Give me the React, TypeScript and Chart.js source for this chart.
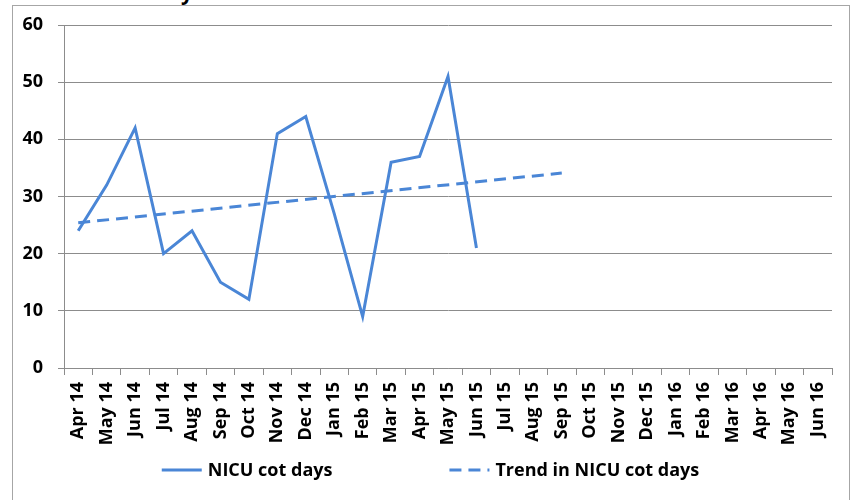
import React, { useEffect, useRef } from "react";
import { Chart, registerables } from "chart.js";

Chart.register(...registerables);

const months: string[] = [
  "Apr 14", "May 14", "Jun 14", "Jul 14", "Aug 14", "Sep 14", "Oct 14", "Nov 14", "Dec 14",
  "Jan 15", "Feb 15", "Mar 15", "Apr 15", "May 15", "Jun 15", "Jul 15", "Aug 15", "Sep 15",
  "Oct 15", "Nov 15", "Dec 15", "Jan 16", "Feb 16", "Mar 16", "Apr 16", "May 16", "Jun 16",
];

const cotDays: (number | null)[] = [
  24, 32, 42, 20, 24, 15, 12, 41, 44, 27, 9, 36, 37, 51, 21,
  null, null, null, null, null, null, null, null, null, null, null, null,
];

// trend line: start (Apr 14) and end (Sep 15) values
const trendValues: (number | null)[] = [
  25.4, null, null, null, null, null, null, null, null, null, null, null, null, null, null, null, null, 34.1,
  null, null, null, null, null, null, null, null, null,
];

const yTicks: number[] = [0, 10, 20, 30, 40, 50, 60];

const seriesNames: string[] = ["NICU cot days", "Trend in NICU cot days"];

const BLUE = "#4A86D6";
const GRID = "#8c8c8c";
const FONT = "'Open Sans'";

const legendPlugin = {
  id: "customLegend",
  afterDraw(chart: any) {
    const ctx = chart.ctx as CanvasRenderingContext2D;
    ctx.save();
    ctx.font = `bold 18px ${FONT}`;
    ctx.textBaseline = "middle";
    ctx.fillStyle = "#000";
    const lineW = 40;
    const textGap = 6;
    const itemGap = 117;
    const w1 = lineW + textGap + ctx.measureText(seriesNames[0]).width;
    const w2 = lineW + textGap + ctx.measureText(seriesNames[1]).width;
    const total = w1 + itemGap + w2;
    let x = (chart.width - total) / 2;
    const y = 464;
    const dashes = [[], [12, 7]];
    [w1, w2].forEach((w, i) => {
      ctx.beginPath();
      ctx.strokeStyle = BLUE;
      ctx.lineWidth = 3;
      ctx.setLineDash(dashes[i]);
      ctx.moveTo(x, y);
      ctx.lineTo(x + lineW, y);
      ctx.stroke();
      ctx.setLineDash([]);
      ctx.fillText(seriesNames[i], x + lineW + textGap, y + 1);
      x += w + itemGap;
    });
    ctx.restore();
  },
};

export default function App() {
  const ref = useRef<HTMLCanvasElement | null>(null);

  useEffect(() => {
    if (!ref.current) return;
    const chart = new Chart(ref.current, {
      type: "line",
      data: {
        labels: months,
        datasets: [
          {
            label: seriesNames[0],
            data: cotDays,
            borderColor: BLUE,
            backgroundColor: BLUE,
            borderWidth: 3,
            pointRadius: 0,
            tension: 0,
            borderJoinStyle: "miter",
            spanGaps: false,
          },
          {
            label: seriesNames[1],
            data: trendValues,
            borderColor: BLUE,
            backgroundColor: BLUE,
            borderWidth: 3,
            borderDash: [12, 7],
            pointRadius: 0,
            tension: 0,
            spanGaps: true,
          },
        ],
      },
      options: {
        animation: false,
        responsive: false,
        layout: { padding: { top: 19, right: 16, left: 0, bottom: 0 } },
        plugins: {
          legend: { display: false },
          tooltip: { enabled: false },
          title: { display: false },
        },
        scales: {
          x: {
            offset: true,
            grid: {
              display: true,
              drawOnChartArea: false,
              drawTicks: true,
              tickLength: 7,
              offset: true,
              color: GRID,
            },
            border: { display: true, color: GRID },
            ticks: {
              autoSkip: false,
              minRotation: 90,
              maxRotation: 90,
              padding: 7,
              color: "#000",
              font: { family: FONT, size: 18, weight: "bold" },
            },
            afterFit(scale: any) {
              scale.height = 132;
              scale.paddingLeft = 0;
              scale.paddingRight = 0;
            },
          },
          y: {
            min: 0,
            max: 60,
            afterBuildTicks(scale: any) {
              scale.ticks = yTicks.map((v) => ({ value: v }));
            },
            grid: { color: GRID, tickLength: 6, drawTicks: true },
            border: { display: true, color: GRID },
            ticks: {
              padding: 15,
              color: "#000",
              font: { family: FONT, size: 18, weight: "bold" },
            },
            afterFit(scale: any) {
              scale.width = 51;
              scale.paddingTop = 0;
              scale.paddingBottom = 0;
            },
          },
        },
      },
      plugins: [legendPlugin],
    });
    return () => chart.destroy();
  }, []);

  return (
    <div
      style={{
        position: "absolute",
        left: 0,
        top: 0,
        width: 851,
        height: 500,
        overflow: "hidden",
        background: "#fff",
      }}
    >
      <div
        style={{
          position: "absolute",
          left: 58,
          top: -18,
          fontFamily: FONT,
          fontWeight: "bold",
          fontSize: 21,
          lineHeight: "21px",
          color: "#000",
          whiteSpace: "nowrap",
        }}
      >
        NICU cot days
      </div>
      <div
        style={{
          position: "absolute",
          left: 12,
          top: 5,
          width: 838,
          height: 540,
          boxSizing: "border-box",
          border: "1px solid #a6a6a6",
          background: "#fff",
        }}
      />
      <canvas
        ref={ref}
        width={835}
        height={494}
        style={{ position: "absolute", left: 13, top: 6, width: 835, height: 494 }}
      />
    </div>
  );
}
